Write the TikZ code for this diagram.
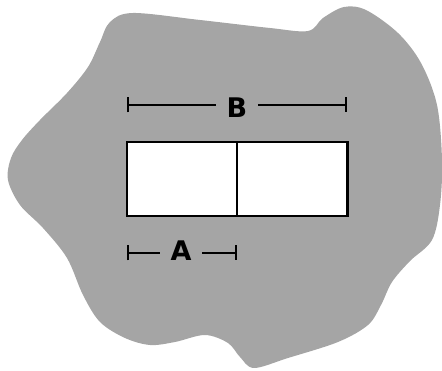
\documentclass[tikz,border=0pt]{standalone}
\usepackage{fontspec}
\setmainfont{DejaVu Sans}
\usetikzlibrary{arrows.meta}
\definecolor{blobgray}{RGB}{165,165,165}
\tikzset{
  cell/.style={draw=black, fill=white, line width=2.1pt, minimum width=110.3pt, minimum height=73.4pt, inner sep=0pt, outer sep=0pt},
  dimlabel/.style={font=\fontsize{27}{27}\selectfont\bfseries, minimum width=42pt, inner sep=0pt, text height=20pt, text depth=0pt},
  dim/.style={line width=2.1pt, {Bar[width=15pt,line width=2.1pt]}-},
}
\begin{document}
\begin{tikzpicture}[x=1pt,y=-1pt]
\useasboundingbox (0,0) rectangle (442,371);
\fill[blobgray] plot[smooth cycle, tension=0.55] coordinates {
 (133,13) (200,20) (270,28) (308,31) (323,18) (344,7) (366,10) (398,33) (421,63)
 (437,105) (442,160) (440,205) (432,240) (410,261) (392,282) (381,305) (368,325)
 (338,342) (288,358) (254,368) (240,357) (228,343) (205,335) (175,342) (150,345)
 (125,338) (100,322) (83,295) (67,258) (43,228) (20,205) (8,180) (11,158)
 (22,140) (40,120) (67,93) (88,67) (100,42) (110,22)};
\node[cell] (L) at (182,179) {};
\node[cell] (R) at (292.3,179) {};
\coordinate (bL) at (127,105);
\coordinate (bR) at (347,105);
\node[dimlabel] (B) at (237,108) {B};
\draw[dim] (bL) -- (B.west |- bL);
\draw[dim] (bR) -- (B.east |- bR);
\coordinate (aL) at (127,253);
\coordinate (aR) at (237,253);
\node[dimlabel] (A) at (181,251) {A};
\draw[dim] (aL) -- (A.west |- aL);
\draw[dim] (aR) -- (A.east |- aR);
\end{tikzpicture}
\end{document}
